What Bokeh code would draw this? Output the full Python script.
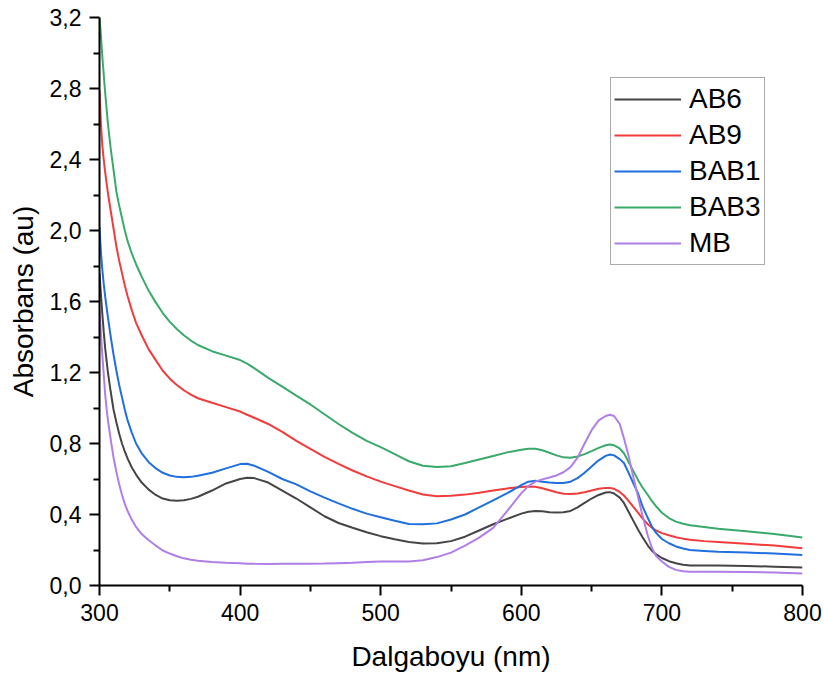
from bokeh.plotting import figure
from bokeh.models import FixedTicker, Legend, LegendItem, Range1d
from bokeh.embed import file_html
from bokeh.resources import INLINE

wavelength = [300, 301, 302, 303, 304, 305, 306,
              308, 310, 312, 314, 316, 318, 320,
              323, 326,
              330, 335, 340, 345, 350, 355, 360, 365, 370,
              380, 390, 400, 405, 410,
              420, 430, 440, 450, 460, 470, 480, 490, 500, 510, 520, 530, 540, 550, 560, 570, 580, 590, 600,
              605, 610, 615, 620, 625, 630, 635, 640, 645, 650, 655, 660,
              663, 666,
              670, 673, 676, 680, 683, 686, 690, 693, 696, 700,
              705, 710, 715, 720,
              730, 740, 760, 780, 800]

ab6 = [1.76, 1.64, 1.53, 1.43, 1.34, 1.27, 1.20,
       1.09, 0.99, 0.92, 0.855, 0.80, 0.755, 0.715,
       0.665, 0.625,
       0.58, 0.54, 0.51, 0.49, 0.48, 0.477, 0.48, 0.488, 0.50,
       0.535, 0.575, 0.60, 0.607, 0.605,
       0.58, 0.535, 0.49, 0.44, 0.39, 0.352, 0.325, 0.30, 0.278, 0.26, 0.245, 0.237, 0.238, 0.25, 0.275, 0.31, 0.345, 0.375, 0.405,
       0.415, 0.42, 0.418, 0.413, 0.411, 0.413, 0.42, 0.44, 0.465, 0.49, 0.51, 0.524,
       0.526, 0.518,
       0.495, 0.465, 0.42, 0.36, 0.315, 0.275, 0.225, 0.195, 0.175, 0.155,
       0.137, 0.125, 0.117, 0.113,
       0.112, 0.112, 0.11, 0.106, 0.101]

ab9 = [2.79, 2.60, 2.48, 2.40, 2.33, 2.27, 2.21,
       2.11, 2.01, 1.91, 1.83, 1.76, 1.69, 1.63,
       1.55, 1.48,
       1.41, 1.33, 1.27, 1.21, 1.165, 1.13, 1.10, 1.075, 1.055,
       1.03, 1.005, 0.98, 0.962, 0.945,
       0.91, 0.865, 0.815, 0.77, 0.725, 0.685, 0.648, 0.615, 0.585, 0.56, 0.535, 0.513, 0.503, 0.505, 0.512, 0.522, 0.535, 0.547, 0.555,
       0.558, 0.556, 0.548, 0.537, 0.525, 0.517, 0.515, 0.518, 0.525, 0.535, 0.545, 0.55,
       0.55, 0.545,
       0.527, 0.507, 0.48, 0.44, 0.41, 0.38, 0.345, 0.325, 0.31, 0.295,
       0.283, 0.272, 0.264, 0.258,
       0.25, 0.245, 0.235, 0.225, 0.21]

bab1 = [2.02, 1.88, 1.78, 1.70, 1.63, 1.57, 1.51,
        1.40, 1.30, 1.21, 1.13, 1.06, 0.99, 0.93,
        0.86, 0.80,
        0.745, 0.695, 0.66, 0.635, 0.62, 0.612, 0.61, 0.612, 0.618,
        0.635, 0.66, 0.684, 0.686, 0.675,
        0.64, 0.60, 0.57, 0.53, 0.495, 0.463, 0.432, 0.405, 0.385, 0.365, 0.347, 0.345, 0.35, 0.372, 0.40, 0.44, 0.48, 0.52, 0.565,
        0.585, 0.59, 0.585, 0.58, 0.577, 0.578, 0.585, 0.605, 0.635, 0.67, 0.705, 0.73,
        0.738, 0.733,
        0.712, 0.69, 0.64, 0.57, 0.52, 0.45, 0.38, 0.33, 0.295, 0.262,
        0.238, 0.22, 0.208, 0.20,
        0.195, 0.19, 0.186, 0.18, 0.172]

bab3 = [3.20, 3.10, 2.98, 2.88, 2.78, 2.69, 2.60,
        2.46, 2.34, 2.22, 2.14, 2.07, 2.00, 1.94,
        1.87, 1.81,
        1.74, 1.66, 1.595, 1.535, 1.485, 1.445, 1.41, 1.38, 1.355,
        1.32, 1.295, 1.27, 1.25, 1.225,
        1.17, 1.12, 1.07, 1.02, 0.965, 0.91, 0.86, 0.815, 0.78, 0.74, 0.70, 0.675, 0.667, 0.672, 0.69, 0.71, 0.73, 0.75, 0.765,
        0.77, 0.77, 0.762, 0.748, 0.733, 0.722, 0.72, 0.727, 0.74, 0.757, 0.775, 0.79,
        0.794, 0.79,
        0.772, 0.745, 0.70, 0.64, 0.595, 0.555, 0.51, 0.475, 0.445, 0.41,
        0.38, 0.36, 0.348, 0.34,
        0.33, 0.32, 0.305, 0.29, 0.27]

mb = [1.55, 1.42, 1.30, 1.19, 1.08, 1.00, 0.93,
      0.82, 0.72, 0.64, 0.57, 0.51, 0.46, 0.42,
      0.37, 0.33,
      0.29, 0.255, 0.225, 0.197, 0.18, 0.165, 0.153, 0.145, 0.139,
      0.132, 0.128, 0.125, 0.123, 0.122,
      0.121, 0.122, 0.122, 0.123, 0.124, 0.126, 0.128, 0.132, 0.135, 0.135, 0.135, 0.142, 0.16, 0.185, 0.225, 0.27, 0.325, 0.42, 0.52,
      0.56, 0.585, 0.598, 0.608, 0.62, 0.638, 0.667, 0.72, 0.80, 0.875, 0.93, 0.955,
      0.962, 0.955,
      0.91, 0.83, 0.74, 0.60, 0.50, 0.40, 0.28, 0.21, 0.165, 0.135,
      0.105, 0.088, 0.08, 0.078,
      0.078, 0.078, 0.076, 0.073, 0.068]

series_names = ["AB6", "AB9", "BAB1", "BAB3", "MB"]
series_values = [ab6, ab9, bab1, bab3, mb]
series_colors = ["#454545", "#f23c3c", "#1f6fe0", "#3aaa6a", "#b07ee6"]

x_ticks = [300, 400, 500, 600, 700, 800]
x_minor = [350, 450, 550, 650, 750]
y_ticks = [0.0, 0.4, 0.8, 1.2, 1.6, 2.0, 2.4, 2.8, 3.2]
y_minor = [0.2, 0.6, 1.0, 1.4, 1.8, 2.2, 2.6, 3.0]
y_tick_labels = ["0,0", "0,4", "0,8", "1,2", "1,6", "2,0", "2,4", "2,8", "3,2"]

FONT = "Liberation Sans"

p = figure(frame_width=703, frame_height=568, output_backend="svg", toolbar_location=None,
           x_range=Range1d(300, 800), y_range=Range1d(0, 3.2),
           min_border_left=99, min_border_top=17, min_border_right=22, min_border_bottom=92,
           x_axis_label="Dalgaboyu (nm)", y_axis_label="Absorbans (au)")
p.outline_line_color = None
p.xgrid.grid_line_color = None
p.ygrid.grid_line_color = None
p.background_fill_color = "white"
p.border_fill_color = "white"

p.xaxis.ticker = FixedTicker(ticks=x_ticks, minor_ticks=x_minor)
p.yaxis.ticker = FixedTicker(ticks=y_ticks, minor_ticks=y_minor)
p.yaxis.major_label_overrides = {t: l for t, l in zip(y_ticks, y_tick_labels)}

for ax in (p.xaxis, p.yaxis):
    ax.axis_line_color = "black"
    ax.axis_line_width = 2
    ax.major_tick_line_color = "black"
    ax.major_tick_line_width = 2
    ax.minor_tick_line_color = "black"
    ax.minor_tick_line_width = 2
    ax.major_tick_in = 0
    ax.major_tick_out = 10
    ax.minor_tick_in = 0
    ax.minor_tick_out = 6
    ax.major_label_text_font = FONT
    ax.major_label_text_font_size = "23px"
    ax.major_label_text_color = "black"
    ax.axis_label_text_font = FONT
    ax.axis_label_text_font_size = "28px"
    ax.axis_label_text_font_style = "normal"
    ax.axis_label_text_color = "black"

p.xaxis.major_label_standoff = 8
p.yaxis.major_label_standoff = 8
p.xaxis.axis_label_standoff = 17
p.yaxis.axis_label_standoff = 8

items = []
for name, vals, col in zip(series_names, series_values, series_colors):
    r = p.line(wavelength, vals, line_color=col, line_width=2)
    items.append(LegendItem(label=name, renderers=[r]))

legend = Legend(items=items, location=(511, 320), orientation="vertical",
                label_text_font=FONT, label_text_font_size="28px", label_text_color="black",
                glyph_width=67, glyph_height=36, label_height=36, label_standoff=8,
                spacing=0, padding=3, margin=0,
                border_line_color="#555555", border_line_width=1.5,
                background_fill_color="white", background_fill_alpha=1.0)
p.add_layout(legend, "center")

open("out.html", "w").write(file_html(p, INLINE))
